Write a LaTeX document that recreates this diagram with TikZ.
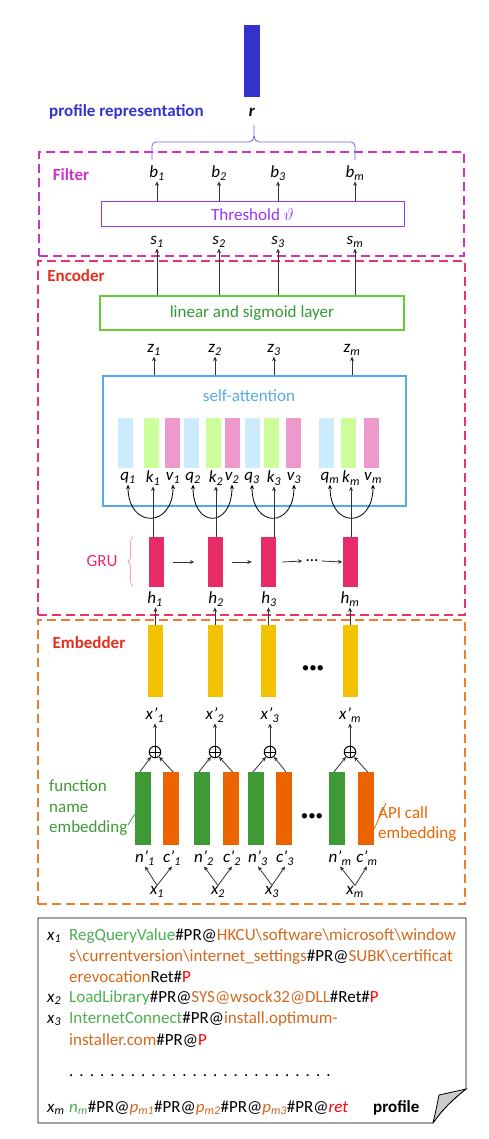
\documentclass[tikz,border=0pt]{standalone}
\usepackage{fontspec}
\setmainfont{Carlito}
\usetikzlibrary{arrows.meta,calc,decorations.pathreplacing}
\definecolor{rblue}{HTML}{3333CC}
\definecolor{filtc}{HTML}{CC33CC}
\definecolor{encc}{HTML}{E8336E}
\definecolor{titc}{HTML}{E62E1C}
\definecolor{embc}{HTML}{EE7D31}
\definecolor{thrc}{HTML}{9933FF}
\definecolor{lingb}{HTML}{66CC33}
\definecolor{lingt}{HTML}{339933}
\definecolor{sac}{HTML}{55AAEE}
\definecolor{qc}{HTML}{CCEBFF}
\definecolor{kc}{HTML}{CCFF99}
\definecolor{vc}{HTML}{EE99CC}
\definecolor{gruc}{HTML}{E62B66}
\definecolor{grub}{HTML}{F2A0B8}
\definecolor{yc}{HTML}{F2C100}
\definecolor{gc}{HTML}{3D9A35}
\definecolor{oc}{HTML}{EB6400}
\definecolor{ptg}{HTML}{4CAF50}
\definecolor{pto}{HTML}{D2691E}
\definecolor{bracec}{HTML}{6666DD}
\newcommand\mylab[2]{\textit{#1}\textsubscript{\textit{#2}}}
\newcommand\mylabp[2]{\textit{#1’}\textsubscript{\textit{#2}}}
\newcommand\dotrow{\foreach \k in {1,...,26}{.\hspace{6pt}}}
\begin{document}
\begin{tikzpicture}[x=1pt,y=-1pt,font=\fontsize{17}{20.7}\selectfont,
  bar/.style={inner sep=0pt,draw=none,minimum width=15},
  lab/.style={inner sep=1pt},
  arr/.style={-{Stealth[length=4.5pt,width=4pt]},black!80,line width=0.8pt},
  darr/.style={{Stealth[length=4.5pt,width=4pt]}-{Stealth[length=4.5pt,width=4pt]},black,line width=0.8pt},
  dbox/.style={dashed,dash pattern=on 9pt off 5pt,line width=1.2pt},
  title/.style={font=\fontsize{17}{20.7}\selectfont\bfseries,inner sep=0pt},
  ptxt/.style={anchor=base west,inner sep=0pt},
  oplusnode/.style={circle,draw,line width=1pt,minimum size=11.5,inner sep=0pt,
     path picture={\draw[line width=1pt] (path picture bounding box.north) -- (path picture bounding box.south)
       (path picture bounding box.west) -- (path picture bounding box.east);}}]
\useasboundingbox (0,0) rectangle (489,1139);

% ---------- top: representation ----------
\node[bar,fill=rblue,minimum width=16,minimum height=72] (rbar) at (252,61) {};
\node[title,text=rblue] (prep) at (126.5,112) {profile representation};
\node[lab] (rl) at (252,112) {\textbf{\textit{r}}};
\draw[bracec,line width=0.8pt] (152,160) -- (152,146) to[out=90,in=180] (156,142) -- (249,142)
   to[out=0,in=-90] (254,136) -- (254,125);
\draw[bracec,line width=0.8pt] (355,160) -- (355,146) to[out=90,in=0] (351,142) -- (259,142)
   to[out=180,in=-90] (254,136);

% ---------- Filter ----------
\node[dbox,draw=filtc,minimum width=425,minimum height=104,inner sep=0pt] (filt) at (251.5,204) {};
\node[title,text=filtc] (filtl) at (71,175) {Filter};
\node[draw=thrc,line width=1pt,minimum width=303,minimum height=25,inner sep=0pt,text=thrc] (thr) at (252.5,214.5) {Threshold $\vartheta$};
\foreach \i/\x in {1/157,2/219,3/278,m/355}{
  \node[lab] (b\i) at (\x,173) {\mylab{b}{\i}};
  \node[lab] (s\i) at (\x,242) {\mylab{s}{\i}};
  \draw[arr] (thr.north -| b\i) -- (b\i.south);
}

% ---------- Encoder ----------
\node[dbox,draw=encc,minimum width=427,minimum height=354,inner sep=0pt] (enc) at (251.5,438) {};
\node[title,text=titc] (encl) at (76,276) {Encoder};
\node[draw=lingb,line width=1.2pt,minimum width=304,minimum height=34,inner sep=0pt,text=lingt] (lin) at (252,313) {linear and sigmoid layer};
\foreach \i in {1,2,3,m}{ \draw[arr] (lin.north -| s\i) -- (s\i.south); }
\foreach \i/\x in {1/154,2/215,3/274,m/352}{ \node[lab] (z\i) at (\x,350) {\mylab{z}{\i}}; }
\node[draw=sac,line width=1.2pt,minimum width=303,minimum height=130,inner sep=0pt] (sa) at (254.5,441) {};
\node[text=sac,inner sep=0pt] (sal) at (249,396) {self-attention};
\foreach \i in {1,2,3,m}{ \draw[arr] (sa.north -| z\i) -- (z\i.south); }
% q k v bars
\foreach \n/\x/\c in {q1/125.5/qc,k1/151.5/kc,v1/172.5/vc,q2/191.5/qc,k2/213.5/kc,v2/232.5/vc,
   q3/252/qc,k3/271.5/kc,v3/293.5/vc,qm/326.5/qc,km/348.5/kc,vm/371.5/vc}{
  \node[bar,fill=\c,minimum height=50] (\n) at (\x,443) {};
}
\foreach \i/\qx/\kx/\vx in {1/128/153/173,2/193/216/232,3/252/274/294,m/330/351/373}{
  \node[lab] (ql\i) at (\qx,478) {\mylab{q}{\i}};
  \node[lab] (kl\i) at (\kx,478) {\mylab{k}{\i}};
  \node[lab] (vl\i) at (\vx,478) {\mylab{v}{\i}};
  \draw[darr] (ql\i.south) .. controls ($(ql\i.south)+(0,44)$) and ($(vl\i.south)+(0,44)$) .. (vl\i.south);
}
% GRU
\foreach \i/\x in {1/156.5,2/215,3/268.5,m/350}{
  \node[bar,fill=gruc,minimum height=50] (gru\i) at (\x,562) {};
  \draw[arr] (gru\i.north -| kl\i) -- (kl\i.south);
}
\node[inner sep=0pt] (gdots) at (312,561) {...};
\draw[arr] ([xshift=9]gru1.east) -- ([xshift=-13]gru2.west);
\draw[arr] ([xshift=9.5]gru2.east) -- ([xshift=-9]gru3.west);
\draw[arr] ([xshift=6]gru3.east) -- ([xshift=-3]gdots.west);
\draw[arr] ([xshift=3]gdots.east) -- (grum.west);
\node[text=gruc,inner sep=0pt] (grul) at (102,561) {GRU};
\draw[grub,line width=0.8pt,decorate,decoration={brace,amplitude=5pt}] (133,586) -- (133,537);
\foreach \i/\x in {1/155,2/216,3/269,m/350}{ \node[lab] (h\i) at (\x,599) {\mylab{h}{\i}}; }

% ---------- Embedder ----------
\node[dbox,draw=embc,minimum width=427,minimum height=284,inner sep=0pt] (emb) at (251.5,762) {};
\node[title,text=titc] (embl) at (89,643) {Embedder};
\foreach \i/\x/\lx in {1/155.5/155,2/215/215,3/268.5/270,m/350/350}{
  \node[bar,fill=yc,minimum height=72] (y\i) at (\x,661) {};
  \draw[arr] (y\i.north) -- (y\i.north |- h\i.south);
  \node[lab] (xp\i) at (\lx,715) {\mylabp{x}{\i}};
  \node[oplusnode] (p\i) at (\lx,752) {};
  \draw[arr] (p\i.north) -- (p\i.north |- xp\i.south);
}
\node[inner sep=0pt,font=\fontsize{15}{15}\selectfont] (ydots) at (313,669) {•••};
\foreach \i/\gx/\ox in {1/143/171,2/202/230.5,3/256/284,m/337/365.5}{
  \node[bar,fill=gc,minimum width=16,minimum height=73] (g\i) at (\gx,808.5) {};
  \node[bar,fill=oc,minimum width=16,minimum height=73] (o\i) at (\ox,808.5) {};
  \draw[arr] ([xshift=-3]g\i.north) -- (p\i.-130);
  \draw[arr] ([xshift=2]o\i.north) -- (p\i.-50);
}
\node[inner sep=0pt,font=\fontsize{15}{15}\selectfont] (edots) at (312,817) {•••};
\node[text=gc,align=left,anchor=west,inner sep=0pt,font=\fontsize{17}{20.5}\selectfont] (fne) at (49,808) {function\\name\\embedding};
\coordinate (fnp) at (128,825);
\draw[gc,line width=0.8pt] (fnp) -- ([yshift=-5.5]g1.west);
\node[text=oc,align=left,anchor=west,inner sep=0pt,font=\fontsize{17}{20.5}\selectfont] (ace) at (378,824) {API call\\embedding};
\coordinate (acp) at (386,803);
\draw[oc,line width=0.8pt] ([yshift=-21.5]om.east) -- (acp);
\foreach \i/\nx/\cx/\xx in {1/145/172/157,2/204/232/218,3/258/285/272,m/340/367/355}{
  \node[lab] (n\i) at (\nx,858) {\mylabp{n}{\i}};
  \node[lab] (c\i) at (\cx,858) {\mylabp{c}{\i}};
  \node[lab] (x\i) at (\xx,892) {\mylab{x}{\i}};
  \draw[arr] (x\i.north) -- (n\i.south);
  \draw[arr] (x\i.north) -- (c\i.south);
}

% ---------- profile ----------
\draw[line width=0.8pt] (38,918) -- (466,918) -- (466,1089) .. controls (452,1100) and (442,1110) .. (433,1123) -- (38,1123) -- cycle;
\draw[line width=0.8pt,fill=black!20] (433,1123) .. controls (436,1110) .. (439,1095) -- (466,1089) .. controls (452,1100) and (442,1110) .. (433,1123);
\node[ptxt] (px1) at (47,940) {\mylab{x}{1}};
\node[ptxt] (pl1) at (69,940) {\textcolor{ptg}{RegQueryValue}\#PR@\textcolor{pto}{HKCU\textbackslash software\textbackslash microsoft\textbackslash window}};
\node[ptxt] (pl2) at (69,961) {\textcolor{pto}{s\textbackslash currentversion\textbackslash internet\_settings}\#PR@\textcolor{pto}{SUBK\textbackslash certificat}};
\node[ptxt] (pl3) at (69,982) {\textcolor{pto}{erevocation}Ret\#\textcolor{red}{P}};
\node[ptxt] (px2) at (47,1002) {\mylab{x}{2}};
\node[ptxt] (pl4) at (69,1002) {\textcolor{ptg}{LoadLibrary}\#PR@\textcolor{pto}{SYS@wsock32@DLL}\#Ret\#\textcolor{red}{P}};
\node[ptxt] (px3) at (47,1023) {\mylab{x}{3}};
\node[ptxt] (pl5) at (69,1023) {\textcolor{ptg}{InternetConnect}\#PR@\textcolor{pto}{install.optimum-}};
\node[ptxt] (pl6) at (69,1045) {\textcolor{pto}{installer.com}\#PR@\textcolor{red}{P}};
\node[ptxt] (pl7) at (69,1076) {\dotrow};
\node[ptxt] (pxm) at (47,1112) {\mylab{x}{m}};
\node[ptxt] (pl8) at (69,1112) {\textcolor{ptg}{\mylab{n}{m}}\#PR@\textcolor{pto}{\mylab{p}{m1}}\#PR@\textcolor{pto}{\mylab{p}{m2}}\#PR@\textcolor{pto}{\mylab{p}{m3}}\#PR@\textcolor{red}{\textit{ret}}};
\node[ptxt,font=\fontsize{17}{20.7}\selectfont\bfseries] (prof) at (373,1112) {profile};
\end{tikzpicture}
\end{document}
